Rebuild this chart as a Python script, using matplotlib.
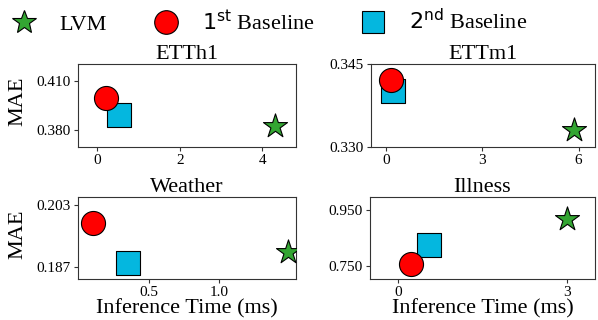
import numpy as np
import matplotlib.pyplot as plt
from matplotlib.lines import Line2D

plt.rcParams['font.family'] = ['Liberation Serif', 'DejaVu Serif']
plt.rcParams['mathtext.fontset'] = 'dejavusans'

# inference time (ms) and MAE per dataset: [LVM, 1st baseline, 2nd baseline]
datasets = ['ETTh1', 'ETTm1', 'Weather', 'Illness']
times = {
    'ETTh1': [4.31, 0.21, 0.53],
    'ETTm1': [5.87, 0.15, 0.20],
    'Weather': [1.49, 0.107, 0.351],
    'Illness': [3.0, 0.226, 0.54],
}
maes = {
    'ETTh1': [0.3826, 0.3994, 0.389],
    'ETTm1': [0.3331, 0.3421, 0.3402],
    'Weather': [0.191, 0.1983, 0.1882],
    'Illness': [0.918, 0.756, 0.824],
}
xticks = {'ETTh1': [0, 2, 4], 'ETTm1': [0, 3, 6], 'Weather': [0.5, 1.0], 'Illness': [0, 3]}
xticklabels = {'ETTh1': ['0', '2', '4'], 'ETTm1': ['0', '3', '6'],
               'Weather': ['0.5', '1.0'], 'Illness': ['0', '3']}
yticks = {'ETTh1': [0.380, 0.410], 'ETTm1': [0.330, 0.345],
          'Weather': [0.187, 0.203], 'Illness': [0.750, 0.950]}
xlims = {'ETTh1': (-0.47, 4.82), 'ETTm1': (-0.47, 6.51),
         'Weather': (0.0, 1.545), 'Illness': (-0.5, 3.5)}
ylims = {'ETTh1': (0.3696, 0.4204), 'ETTm1': (0.330, 0.345),
         'Weather': (0.184, 0.2051), 'Illness': (0.702, 0.997)}

labels = ['LVM', r'$1^{\mathrm{st}}$ Baseline', r'$2^{\mathrm{nd}}$ Baseline']
markers = ['*', 'o', 's']
colors = ['#33a532', '#ff0000', '#04b7df']
sizes = [330, 300, 300]

fig = plt.figure(figsize=(5.98, 3.2), dpi=100)
W, H = 598, 320
boxes = [(78, 64, 296, 147), (371, 64, 595, 147), (78, 197, 296, 279), (370, 197, 595, 279)]

for i, (name, (l, t, r, b)) in enumerate(zip(datasets, boxes)):
    ax = fig.add_axes([l / W, 1 - b / H, (r - l) / W, (b - t) / H])
    # star first, then the square, circle on top
    for k in [0, 2, 1]:
        ax.scatter(times[name][k], maes[name][k], marker=markers[k], s=sizes[k],
                   c=colors[k], edgecolors='black', linewidths=0.8, zorder=3)
    ax.set_xlim(*xlims[name])
    ax.set_ylim(*ylims[name])
    ax.set_xticks(xticks[name])
    ax.set_xticklabels(xticklabels[name])
    ax.set_yticks(yticks[name])
    ax.set_yticklabels(['%.3f' % v for v in yticks[name]])
    ax.tick_params(labelsize=11, length=3, color='#333333', pad=2)
    ax.set_title(name, fontsize=16, pad=2)
    for sp in ax.spines.values():
        sp.set_color('#333333')
    if i % 2 == 0:
        ax.set_ylabel('MAE', fontsize=16)
        ax.yaxis.set_label_coords(-51 / (r - l), 0.55)
    if i >= 2:
        ax.set_xlabel('Inference Time (ms)', fontsize=16)
        ax.xaxis.set_label_coords(0.5, -(309 - b) / (b - t))
        ax.xaxis.label.set_va('center')

handles = [Line2D([], [], linestyle='none', marker=m, markersize=ms, markerfacecolor=c,
                  markeredgecolor='black', markeredgewidth=0.8)
           for m, c, ms in zip(markers, colors, [18, 17, 16])]
fig.legend(handles, labels, loc='center', ncol=3, frameon=False,
           fontsize=16, bbox_to_anchor=(270 / W, 1 - 22 / H), handlelength=1.0,
           handletextpad=1.1, columnspacing=2.15, borderpad=0.2)

fig.savefig('out.png', dpi=100)
